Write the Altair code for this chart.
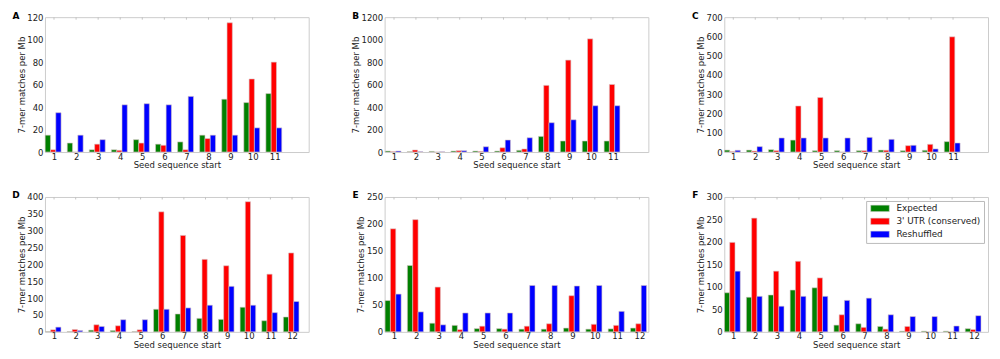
import altair as alt
import pandas as pd

# ---- data ----
positions_11 = list(range(1, 12))
positions_12 = list(range(1, 13))

series_names = ["Expected", "3' UTR (conserved)", "Reshuffled"]
series_colors = ["#008000", "#ff0000", "#0000ff"]

a_expected = [15, 8, 2, 2, 11, 7, 9, 15, 47, 44, 52]
a_utr = [2, 0, 7, 1.5, 8, 6, 2, 12, 115, 65, 80]
a_reshuffled = [35, 15, 11, 42, 43, 42, 49.5, 15, 15, 21.5, 21.5]

b_expected = [9, 3, 6, 9, 9, 9, 15, 139, 98, 98, 98]
b_utr = [3, 18, 0, 12, 5, 38, 27, 593, 818, 1007, 601]
b_reshuffled = [9, 3, 2, 12, 47, 107, 127, 261, 287, 412, 412]

c_expected = [10, 10, 12, 62, 7, 7, 7, 10, 7, 9, 54]
c_utr = [2, 5, 7, 239, 283, 0, 7, 9, 33, 40, 598]
c_reshuffled = [9, 28, 73, 73, 73, 73, 76, 66, 35, 16, 47]

d_expected = [1, 1, 5, 4, 1, 67, 53, 40, 37, 73, 33, 44]
d_utr = [6, 7, 21, 18, 6, 356, 286, 215, 196, 386, 171, 234]
d_reshuffled = [14, 4, 16, 36, 36, 67, 71, 79, 135, 79, 57, 90]

e_expected = [58, 123, 16, 12, 6, 6, 5, 5, 7, 5, 5.5, 7]
e_utr = [191, 208, 83, 4, 10.5, 5, 10.5, 15, 67, 14, 12, 15]
e_reshuffled = [70, 37, 13, 35, 35, 35, 86, 86, 85, 86, 38, 86]

f_expected = [87, 77, 82, 93, 98, 15, 18, 12, 1.5, 1.5, 1.5, 7]
f_utr = [199, 253, 135, 157, 120, 38, 10, 6, 12, 0, 0, 5]
f_reshuffled = [135, 79, 57, 79, 79, 70, 75, 38, 34, 34, 13, 36]

y_ticks_a = [0, 20, 40, 60, 80, 100, 120]
y_ticks_b = [0, 200, 400, 600, 800, 1000, 1200]
y_ticks_c = [0, 100, 200, 300, 400, 500, 600, 700]
y_ticks_d = [0, 50, 100, 150, 200, 250, 300, 350, 400]
y_ticks_e = [0, 50, 100, 150, 200, 250]
y_ticks_f = [0, 50, 100, 150, 200, 250, 300]

x_title = "Seed sequence start"
y_title = "7-mer matches per Mb"

PW, PH = 264, 135
FONT = "DejaVu Sans"
FS = 8.5


def panel(letter, pos, exp, utr, resh, yticks, xdomain, show_legend=False):
    rows = []
    for k, (name, vals) in enumerate(zip(series_names, [exp, utr, resh])):
        for p, v in zip(pos, vals):
            rows.append({"pos": p, "series": name, "k": k, "value": v})
    df = pd.DataFrame(rows)

    if show_legend:
        legend = alt.Legend(
            title=None,
            orient="top-right",
            offset=4,
            strokeColor="#bbbbbb",
            fillColor="white",
            padding=3,
            symbolType="M-2.9,-1H2.9V1H-2.9Z",
            symbolSize=41,
            symbolOffset=6.5,
            symbolStrokeColor="#cccccc",
            symbolStrokeWidth=0.5,
            symbolOpacity=1,
            labelOffset=12,
            labelFont=FONT,
            labelFontSize=8.8,
            labelColor="#222222",
            rowPadding=3,
            cornerRadius=0,
        )
    else:
        legend = None

    xscale = alt.Scale(domain=xdomain, nice=False, zero=False)
    xaxis = alt.Axis(values=pos, title=x_title, format="d",
                     labelOverlap=False, labelFlush=False)

    bars = (
        alt.Chart(df)
        .transform_calculate(
            x0="datum.pos - 0.4 + datum.k * 0.24",
            x1="datum.pos - 0.16 + datum.k * 0.24",
        )
        .mark_bar(stroke="#d6c6c6", strokeWidth=0.6, opacity=1)
        .encode(
            x=alt.X("x0:Q", scale=xscale, axis=xaxis, title=x_title),
            x2="x1:Q",
            y=alt.Y(
                "value:Q",
                scale=alt.Scale(domain=[yticks[0], yticks[-1]], nice=False),
                axis=alt.Axis(values=yticks, title=y_title, format="d",
                              labelOverlap=False, labelFlush=False),
            ),
            y2=alt.datum(0),
            color=alt.Color(
                "series:N",
                scale=alt.Scale(domain=series_names, range=series_colors),
                legend=legend,
            ),
        )
    )
    top_ticks = (
        alt.Chart(pd.DataFrame({"tick": pos}))
        .mark_rule(color="#c4c4c4", strokeWidth=1)
        .encode(x=alt.X("tick:Q", scale=xscale, axis=xaxis, title=x_title),
                y=alt.value(0), y2=alt.value(2.5))
    )
    label = (
        alt.Chart(pd.DataFrame({"letter": [letter]}))
        .mark_text(font=FONT, fontSize=9, fontWeight="bold", align="center",
                   baseline="middle", color="#000000")
        .encode(text="letter:N", x=alt.value(-29), y=alt.value(-1.5))
    )
    return alt.layer(bars, top_ticks, label).properties(width=PW, height=PH)


pa = panel("A", positions_11, a_expected, a_utr, a_reshuffled, y_ticks_a, [0.59, 12.54])
pb = panel("B", positions_11, b_expected, b_utr, b_reshuffled, y_ticks_b, [0.57, 12.62])
pc = panel("C", positions_11, c_expected, c_utr, c_reshuffled, y_ticks_c, [0.59, 12.59])
pd_ = panel("D", positions_12, d_expected, d_utr, d_reshuffled, y_ticks_d, [0.58, 12.77])
pe = panel("E", positions_12, e_expected, e_utr, e_reshuffled, y_ticks_e, [0.58, 12.40])
pf = panel("F", positions_12, f_expected, f_utr, f_reshuffled, y_ticks_f, [0.59, 12.64], show_legend=True)

chart = (
    alt.concat(pa, pb, pc, pd_, pe, pf, columns=3, spacing={"row": 45, "column": 76}, bounds="flush")
    .resolve_scale(color="independent", x="independent", y="independent")
    .resolve_legend(color="independent")
    .properties(padding={"left": 3, "top": 3, "right": 3, "bottom": 2})
    .configure_view(stroke="#cccccc", strokeWidth=1)
    .configure_axis(
        labelFont=FONT,
        titleFont=FONT,
        labelFontSize=FS,
        titleFontSize=FS,
        titleFontWeight="normal",
        labelColor="#222222",
        titleColor="#222222",
        grid=False,
        domain=False,
        ticks=False,
        tickSize=0,
        labelPadding=2,
    )
    .configure_axisX(labelPadding=0, titlePadding=0)
    .configure_axisY(titlePadding=0.5, labelBaseline="middle")
)

chart.save("out.html", embed_options={"renderer": "svg", "actions": False})
